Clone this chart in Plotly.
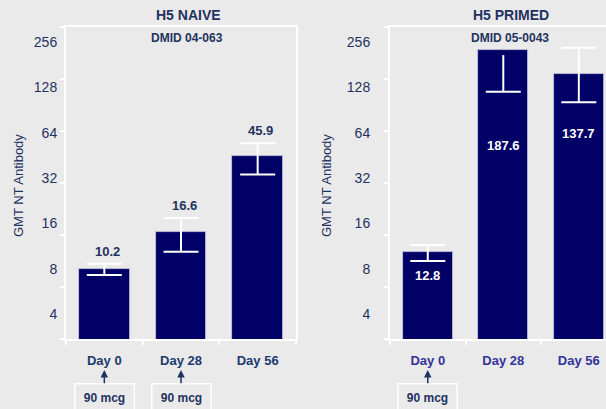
import math
import plotly.graph_objects as go

# ---------------- data ----------------
days = ["Day 0", "Day 28", "Day 56"]

naive_gmt = [10.2, 16.6, 45.9]
naive_ci_lo = [9.4, 12.8, 35.8]
naive_ci_hi = [10.9, 20.1, 54.3]

primed_gmt = [12.8, 187.6, 137.7]
primed_ci_lo = [11.3, 108, 94]
primed_ci_hi = [14.0, 176, 194]
primed_top_cap = [True, False, True]

y_tick_text = ["4", "8", "16", "32", "64", "128", "256"]
y_tick_marks = [4, 8, 16, 32, 64, 128, 256]

dose_label = "90 mcg"
naive_doses = ["Day 0", "Day 28"]
primed_doses = ["Day 0"]

# ---------------- styles / layout ----------------
W, H = 606, 409
BG = "#EAEAEA"
BAR = "#000066"
NAVY = "#1f3260"
FONT = "Arial, Liberation Sans, sans-serif"

def py(px):  # pixel row -> paper y
    return 1 - px / H

def px_x(px):
    return px / W

# label positions (log2) of the y tick texts as drawn in the original
label_pos = [2 ** (2.48 + i * 0.872) for i in range(len(y_tick_text))]
# positions of the in-bar labels in the primed panel
primed_label_at = [9.3, 53, 62]

fig = go.Figure()

def add_panel(xa, ya, gmt, lo, hi, topcap):
    fig.add_trace(go.Bar(
        x=days, y=gmt, width=0.66, xaxis=xa, yaxis=ya,
        marker=dict(color=BAR, line=dict(color="#c9c9dd", width=0.8)),
        hoverinfo="skip", showlegend=False))
    # stems
    fig.add_trace(go.Scatter(
        x=days, y=lo, mode="markers", xaxis=xa, yaxis=ya,
        marker=dict(size=1, color="rgba(0,0,0,0)"),
        error_y=dict(type="data", symmetric=False,
                     array=[h - l for h, l in zip(hi, lo)],
                     arrayminus=[0] * len(lo),
                     color="white", thickness=2, width=0),
        hoverinfo="skip", showlegend=False))
    # caps
    cx, cy = [], []
    for d, l, h, t in zip(days, lo, hi, topcap):
        cx.append(d); cy.append(l)
        if t:
            cx.append(d); cy.append(h)
    fig.add_trace(go.Scatter(
        x=cx, y=cy, mode="markers", xaxis=xa, yaxis=ya,
        marker=dict(symbol="line-ew", size=25, color="white",
                    line=dict(color="white", width=2)),
        hoverinfo="skip", showlegend=False))

add_panel("x", "y", naive_gmt, naive_ci_lo, naive_ci_hi, [True] * 3)
add_panel("x2", "y2", primed_gmt, primed_ci_lo, primed_ci_hi, primed_top_cap)

yrange = [math.log10(4), math.log10(256)]
ydom = [py(339), py(27)]

def yaxis(standoff, mirror):
    return dict(
        type="log", range=yrange, domain=ydom, showgrid=False, zeroline=False,
        showline=True, linecolor="white", linewidth=2, mirror=mirror,
        tickmode="array", tickvals=label_pos, ticktext=y_tick_text, ticks="",
        ticklabelstandoff=standoff,
        tickfont=dict(family=FONT, size=14, color=NAVY),
        minor=dict(tickmode="array", tickvals=y_tick_marks, ticks="outside",
                   ticklen=4, tickwidth=1.5, tickcolor="white", showgrid=False),
        fixedrange=True)

def xaxis(dom, rng, color, anchor):
    return dict(
        type="category", domain=dom, range=rng, anchor=anchor,
        showgrid=False, zeroline=False, showline=True, linecolor="white",
        linewidth=2, mirror=True, ticks="outside", tickson="boundaries",
        ticklen=4, tickwidth=1.5, tickcolor="white", ticklabelstandoff=8,
        tickfont=dict(family=FONT, size=13, color=color),
        tickvals=days, ticktext=[f"<b>{d}</b>" for d in days],
        fixedrange=True)

annotations = []
# value labels, naive panel (above error bars)
for d, v, h in zip(days, naive_gmt, naive_ci_hi):
    annotations.append(dict(x=d, y=math.log10(h), xref="x", yref="y",
                            text=f"<b>{v}</b>", showarrow=False,
                            yanchor="bottom", yshift=3, xshift=3,
                            font=dict(family=FONT, size=13, color=NAVY)))
# value labels, primed panel (inside bars)
for d, v, p in zip(days, primed_gmt, primed_label_at):
    annotations.append(dict(x=d, y=math.log10(p), xref="x2", yref="y2",
                            text=f"<b>{v}</b>", showarrow=False,
                            font=dict(family=FONT, size=13, color="white")))
# titles
for txt, x, y, size in [("H5 NAIVE", 188, 15, 14), ("H5 PRIMED", 511, 15, 14),
                        ("DMID 04-063", 187, 38, 12), ("DMID 05-0043", 510, 38, 12)]:
    annotations.append(dict(x=px_x(x), y=py(y), xref="paper", yref="paper",
                            text=f"<b>{txt}</b>", showarrow=False,
                            xanchor="center", yanchor="middle",
                            font=dict(family=FONT, size=size, color=NAVY)))
# y axis titles
for x in (18, 326):
    annotations.append(dict(x=px_x(x), y=py(186), xref="paper", yref="paper",
                            text="GMT NT Antibody", textangle=-90, showarrow=False,
                            xanchor="center", yanchor="middle",
                            font=dict(family=FONT, size=13, color=NAVY)))
# dose boxes with arrows
for xr, doses in (("x", naive_doses), ("x2", primed_doses)):
    for d in doses:
        annotations.append(dict(
            x=d, y=py(370), xref=xr, yref="paper",
            text=f"<b>{dose_label}</b>", showarrow=True, ax=0, ay=27,
            arrowhead=2, arrowsize=1, arrowwidth=1.5, arrowcolor=NAVY,
            width=52, height=20, borderpad=3, borderwidth=1.5,
            bordercolor="white", bgcolor=BG,
            font=dict(family=FONT, size=12, color=NAVY)))

fig.update_layout(
    width=W, height=H, margin=dict(l=0, r=0, t=0, b=0),
    paper_bgcolor=BG, plot_bgcolor=BG, showlegend=False, bargap=0,
    xaxis=xaxis([px_x(66), px_x(296)], [-0.5, 2.5], "#1c3a6e", "y"),
    xaxis2=xaxis([px_x(390), 1.0], [-0.5, 2.36], "#333399", "y2"),
    yaxis=dict(yaxis(4, True), anchor="x"),
    yaxis2=dict(yaxis(15, False), anchor="x2"),
    annotations=annotations,
)

fig.write_html("out.html")
